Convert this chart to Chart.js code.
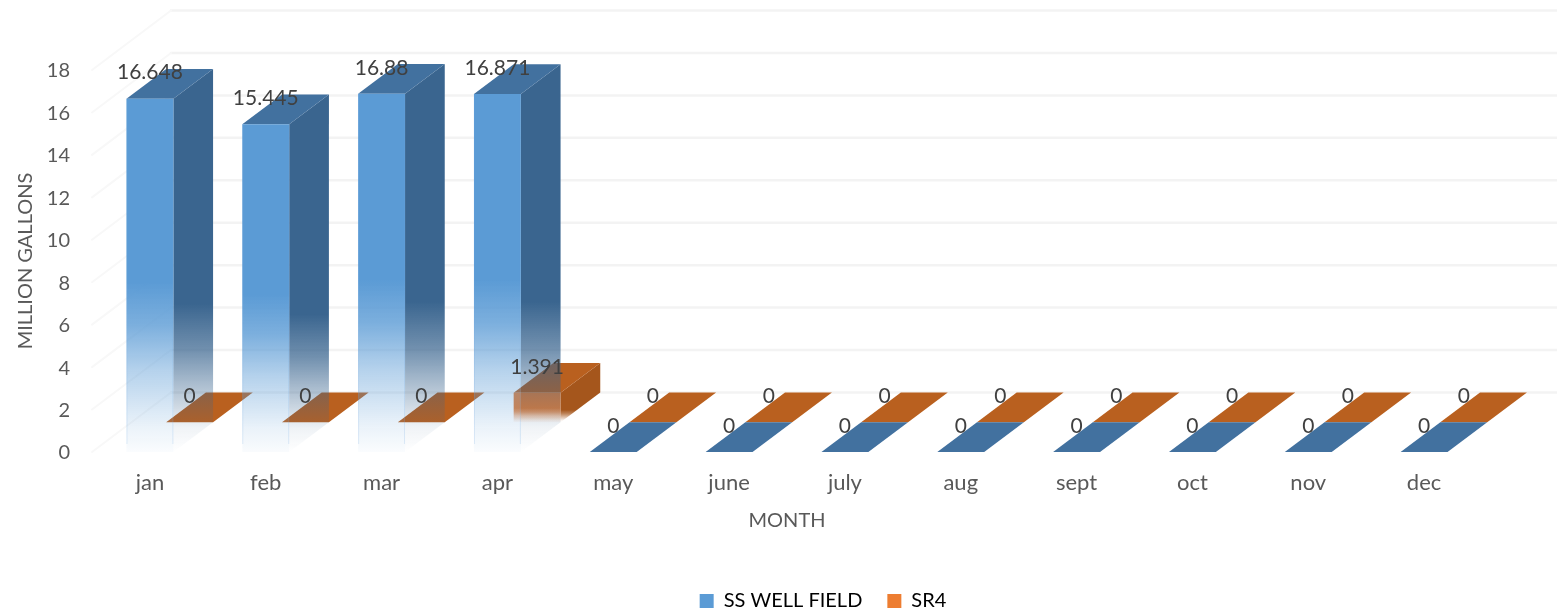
<!DOCTYPE html>
<html>
<head>
<meta charset="utf-8">
<style>
html,body{margin:0;padding:0;background:#fff;overflow:hidden}
canvas{display:block}
</style>
<script src="https://cdn.jsdelivr.net/npm/chart.js@4"></script>
</head>
<body>
<canvas id="c" width="1557" height="615"></canvas>
<script>
const months = ['jan','feb','mar','apr','may','june','july','aug','sept','oct','nov','dec'];
const ssWellField = [16.648,15.445,16.88,16.871,0,0,0,0,0,0,0,0];
const sr4 = [0,0,0,1.391,0,0,0,0,0,0,0,0];
const seriesNames = ['SS WELL FIELD','SR4'];

const FONT = 'Lato, Carlito, sans-serif';
const DX = 39.7, DY = 29.7;           // depth of one row of bars
const WALL_DX = 79, WALL_DY = 59.5;   // depth of the whole plot box
const palette = [
  {legend:'#5b9bd5', rgb:[91,155,213], side:[58,101,143], top:'#42719f'},
  {legend:'#ed7d31', rgb:[226,125,55], side:[165,86,28],  top:'#b9601f'}
];
const rgba = (c,a)=>`rgba(${c[0]},${c[1]},${c[2]},${a})`;

function fade(ctx, top, base, c, stops){
  const g = ctx.createLinearGradient(0, top, 0, base);
  stops.forEach(s => g.addColorStop(s[0], rgba(c, s[1])));
  return g;
}
const FRONT_STOPS = [[0,1],[0.52,1],[0.64,0.8],[0.77,0.45],[0.93,0.12],[1,0.03]];
const SIDE_STOPS  = [[0,1],[0.58,1],[0.71,0.72],[0.81,0.42],[0.93,0.08],[1,0]];

function frontFill(ctx2){
  const chart = ctx2.chart, i = ctx2.datasetIndex;
  if (ctx2.type !== 'data') return palette[i].legend;
  const y = chart.scales.y, v = ctx2.raw;
  return fade(chart.ctx, y.getPixelForValue(v), y.getPixelForValue(0), palette[i].rgb, FRONT_STOPS);
}

const depthPlugin = {
  id:'depth',
  beforeDatasetsDraw(chart){
    const {ctx, scales:{y}, chartArea:a} = chart;
    ctx.save();
    ctx.lineCap = 'round';
    y.ticks.forEach(t=>{
      const py = y.getPixelForValue(t.value);
      ctx.strokeStyle = '#f3f3f3'; ctx.lineWidth = 2.5;
      ctx.beginPath();
      ctx.moveTo(a.left + WALL_DX, py - WALL_DY);
      ctx.lineTo(chart.width, py - WALL_DY);
      ctx.stroke();
      ctx.strokeStyle = '#f8f8f8'; ctx.lineWidth = 2;
      ctx.beginPath();
      ctx.moveTo(a.left, py);
      ctx.lineTo(a.left + WALL_DX, py - WALL_DY);
      ctx.stroke();
    });
    ctx.restore();
  },
  beforeDatasetDraw(chart, args){
    const {ctx} = chart;
    const i = args.index, p = palette[i];
    ctx.save();
    ctx.translate(i*DX, -i*DY);
    args.meta.data.forEach(bar=>{
      const {x, y:top, base, width} = bar.getProps(['x','y','base','width'], true);
      const l = x - width/2, r = x + width/2;
      if (base - top > 0.5){
        ctx.fillStyle = fade(ctx, top, base, p.side, SIDE_STOPS);
        ctx.beginPath();
        ctx.moveTo(r, top); ctx.lineTo(r+DX, top-DY);
        ctx.lineTo(r+DX, base-DY); ctx.lineTo(r, base);
        ctx.closePath(); ctx.fill();
      }
      ctx.fillStyle = p.top;
      ctx.beginPath();
      ctx.moveTo(l, top); ctx.lineTo(r, top);
      ctx.lineTo(r+DX, top-DY); ctx.lineTo(l+DX, top-DY);
      ctx.closePath(); ctx.fill();
    });
  },
  afterDatasetDraw(chart, args){
    const {ctx} = chart;
    if (args.index === 0){
      ctx.strokeStyle = 'rgba(110,165,220,0.2)';
      ctx.lineWidth = 1;
      args.meta.data.forEach(bar=>{
        const {x, y:top, base, width} = bar.getProps(['x','y','base','width'], true);
        if (base - top <= 0.5) return;
        const l = x - width/2, r = x + width/2;
        ctx.beginPath();
        ctx.moveTo(l+0.5, top); ctx.lineTo(l+0.5, base-8);
        ctx.moveTo(r-0.5, top); ctx.lineTo(r-0.5, base-8);
        ctx.stroke();
      });
    }
    ctx.restore();
  },
  afterDatasetsDraw(chart){
    const {ctx} = chart;
    ctx.save();
    ctx.font = '21px ' + FONT;
    ctx.fillStyle = '#404040';
    ctx.textAlign = 'center';
    ctx.textBaseline = 'middle';
    chart.data.datasets.forEach((ds,i)=>{
      chart.getDatasetMeta(i).data.forEach((bar,k)=>{
        ctx.fillText(String(ds.data[k]), bar.x + i*DX, bar.y - i*DY - 26);
      });
    });
    ctx.restore();
  },
  afterLayout(chart){
    const lg = chart.legend;
    const shift = 823 - (lg.left + lg.right)/2;
    lg.left += shift; lg.right += shift;
    lg.top += 6; lg.bottom += 6;
  }
};

new Chart(document.getElementById('c'), {
  type:'bar',
  data:{
    labels:months,
    datasets:[
      {label:seriesNames[0], data:ssWellField, backgroundColor:frontFill, borderWidth:0, clip:false},
      {label:seriesNames[1], data:sr4, backgroundColor:frontFill, borderWidth:0, clip:false}
    ]
  },
  plugins:[depthPlugin],
  options:{
    responsive:false,
    animation:false,
    devicePixelRatio:1,
    layout:{padding:{top:70,right:75,left:0,bottom:0}},
    datasets:{bar:{grouped:false,barPercentage:0.405,categoryPercentage:1}},
    plugins:{
      tooltip:{enabled:false},
      legend:{
        position:'bottom',
        labels:{
          boxWidth:14,boxHeight:14,padding:25,color:'#595959',
          font:{family:FONT,size:20},
          generateLabels:()=>seriesNames.map((n,i)=>({
            text:n,fillStyle:palette[i].legend,strokeStyle:palette[i].legend,lineWidth:0,datasetIndex:i,hidden:false
          }))
        }
      }
    },
    scales:{
      x:{
        afterFit(s){ s.height = 108; },
        grid:{display:false,drawTicks:false},
        border:{display:false},
        ticks:{color:'#595959',font:{family:FONT,size:22},padding:18,maxRotation:0,autoSkip:false},
        title:{display:true,text:'MONTH',color:'#595959',font:{family:FONT,size:20},padding:{top:0,bottom:27}}
      },
      y:{
        min:0,max:18,
        afterFit(s){ s.width = 92; },
        grid:{display:false,drawTicks:false},
        border:{display:false},
        ticks:{stepSize:2,color:'#595959',font:{family:FONT,size:20},padding:22,labelOffset:1},
        title:{display:true,text:'MILLION GALLONS',color:'#595959',font:{family:FONT,size:20},padding:{top:14,bottom:0}}
      }
    }
  }
});
</script>
</body>
</html>
